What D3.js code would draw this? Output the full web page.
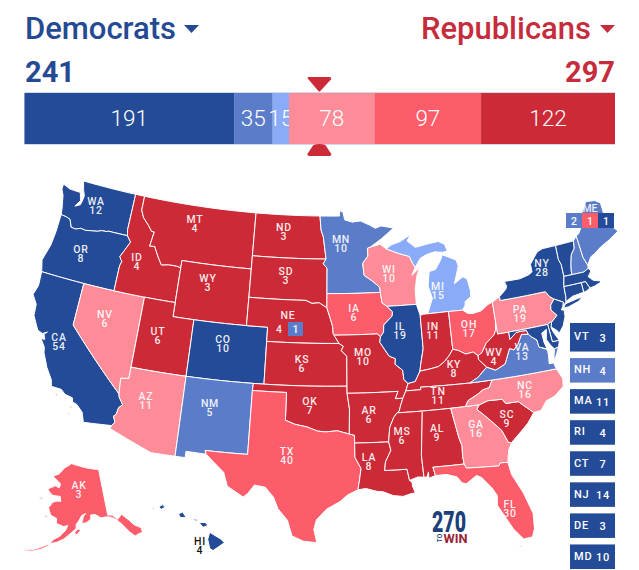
<![CDATA[<!DOCTYPE html>
<html>
<head>
<meta charset="utf-8">
<script src="https://cdn.jsdelivr.net/npm/d3@7"></script>
<style>
  html, body { margin: 0; padding: 0; background: #fff; }
  svg { display: block; font-family: Roboto, sans-serif; }
</style>
</head>
<body>
<svg id="chart" width="639" height="570"></svg>
<script>
// seats in the bar, left to right
const barValues = [191, 35, 15, 78, 97, 122];
const barRatings = ['safeD', 'likelyD', 'leanD', 'leanR', 'likelyR', 'safeR'];
const demTotal = 241;
const repTotal = 297;
const winNumber = 270;

const ratingColors = {
    safeD: '#234b97', likelyD: '#5a7cc9', leanD: '#8aabf7',
    leanR: '#fd8b98', likelyR: '#fd5c6b', safeR: '#cd2a38'
};

const stateIds = ['WA','OR','CA','NV','ID','MT','WY','UT','CO','AZ','NM','ND','SD','NE','KS','OK','TX','MN','IA','MO','AR','LA','WI','IL','MI','IN','OH','KY','TN','MS','AL','GA','FL','SC','NC','VA','WV','PA','NY','VT','NH','ME','MA','RI','CT','NJ','DE','MD','AK','HI'];
const stateVotes = [12,8,54,6,4,4,3,6,10,11,5,3,3,4,6,7,40,10,6,10,6,8,10,19,15,11,17,8,11,6,9,16,30,9,16,13,4,19,28,3,4,4,11,4,7,14,3,10,3,4];
const stateRatings = ['safeD','safeD','safeD','leanR','safeR','safeR','safeR','safeR','safeD','leanR','likelyD','safeR','safeR','safeR','safeR','safeR','likelyR','likelyD','likelyR','safeR','safeR','safeR','leanR','safeD','leanD','safeR','likelyR','safeR','safeR','safeR','safeR','leanR','likelyR','safeR','leanR','likelyD','safeR','leanR','safeD','safeD','likelyD','likelyD','safeD','safeD','safeD','safeD','safeD','safeD','likelyR','safeD'];

// small states listed in the side boxes
const tileStates = ['VT','NH','MA','RI','CT','NJ','DE','MD'];
// Maine and Nebraska district splits
const maineSplit = [[2,'likelyD'],[1,'likelyR'],[1,'safeD']];
const nebraskaSplit = [[4,'safeR'],[1,'likelyD']];

// rough state outlines, "west north" pairs, one string per polygon
const outlines = {
    WA:['124.7 48.38,123.9 48.17,123.1 48.15,122.75 48.15,122.5 47.6,122.9 47.1,122.4 47.3,122.3 47.6,122.25 48,122.5 48.4,122.76 49,117.03 49,117.04 46.42,116.92 46,118.98 46,119 45.95,119.6 45.92,120 45.8,120.6 45.73,121.2 45.65,121.7 45.7,122.2 45.55,122.7 45.6,122.8 45.8,123 46.1,123.4 46.2,124 46.25,124.1 46.7,124.2 47,124.4 47.6,124.7 48'],
    OR:['124 46.25,123.4 46.2,123 46.1,122.8 45.8,122.7 45.6,122.2 45.55,121.7 45.7,121.2 45.65,120.6 45.73,120 45.8,119.6 45.92,119 45.95,118.98 46,116.92 46,116.47 45.6,116.85 45,117.2 44.45,117.05 44.25,116.9 44.15,117.03 43.8,117.03 42,124.2 42,124.5 42.8,124.1 44,124 45'],
    CA:['124.2 42,120 42,120 39,114.63 35,114.57 34.8,114.14 34.3,114.43 34.05,114.53 33.55,114.72 33.4,114.5 33,114.72 32.72,117.12 32.53,117.25 32.85,117.4 33.2,118 33.65,118.4 33.75,118.5 34.03,119.2 34.15,119.6 34.42,120.5 34.45,120.65 34.9,121.3 35.65,121.9 36.6,122 36.97,122.5 37.5,122.15 37.5,122.35 37.85,122.1 38.05,122.5 37.85,123 38,123.7 38.9,123.8 39.7,124.35 40.3,124.1 41','120.2 34.05,119.6 33.98,119.9 33.93','118.6 33.48,118.3 33.35,118.45 33.3','118.6 33.05,118.35 32.82,118.5 32.82'],
    NV:['120 42,114.04 42,114.04 36.2,114.75 36.1,114.63 35,120 39'],
    AZ:['114.04 37,109.05 37,109.05 31.33,111.07 31.33,114.81 32.5,114.72 32.72,114.5 33,114.72 33.4,114.53 33.55,114.43 34.05,114.14 34.3,114.57 34.8,114.63 35,114.75 36.1,114.04 36.2'],
    UT:['114.04 42,111.05 42,111.05 41,109.05 41,109.05 37,114.04 37'],
    ID:['117.03 49,116.05 49,116.05 48,115.7 47.5,115 47,114.6 46.65,114.32 46.65,114.5 45.6,114 45.65,113.45 44.95,113 44.45,112.3 44.55,111.5 44.55,111.05 44.48,111.05 42,117.03 42,117.03 43.8,116.9 44.15,117.05 44.25,117.2 44.45,116.85 45,116.47 45.6,116.92 46,117.04 46.42'],
    MT:['116.05 49,104.05 49,104.05 45,111.05 45,111.05 44.48,111.5 44.55,112.3 44.55,113 44.45,113.45 44.95,114 45.65,114.5 45.6,114.32 46.65,114.6 46.65,115 47,115.7 47.5,116.05 48'],
    WY:['111.05 45,104.05 45,104.05 41,111.05 41'],
    CO:['109.05 41,102.05 41,102.05 37,109.05 37'],
    NM:['109.05 37,103 37,103.04 36.5,103.04 32,106.62 32,106.5 31.75,108.2 31.78,108.2 31.33,109.05 31.33'],
    TX:['106.62 32,103.04 32,103.04 36.5,100 36.5,100 34.56,99.2 34.3,98.1 34.13,97.2 33.85,96.5 33.8,95.5 33.88,94.48 33.64,94.04 33.55,94.04 33,94.04 32,93.55 31.2,93.7 30.4,93.85 29.7,94.7 29.35,95.3 28.9,96.4 28.35,97.2 27.6,97.4 26.9,97.15 25.96,98.2 26.05,99.1 26.4,99.5 27.5,100.3 28.3,100.7 29.1,101.4 29.77,102.3 29.88,102.8 29.25,103.15 28.98,104.5 29.65,104.9 30.6,106.5 31.75'],
    OK:['103 37,94.62 37,94.62 36.5,94.43 35.4,94.48 33.64,95.5 33.88,96.5 33.8,97.2 33.85,98.1 34.13,99.2 34.3,100 34.56,100 36.5,103.04 36.5'],
    KS:['102.05 40,95.3 40,94.9 39.8,95.1 39.5,94.6 39.1,94.62 37,102.05 37'],
    NE:['104.05 43,98.5 43,97.9 42.8,97.2 42.85,96.45 42.5,96.1 41.7,95.9 41.2,95.85 40.7,95.3 40,102.05 40,102.05 41,104.05 41'],
    SD:['104.05 45.94,96.56 45.94,96.85 45.6,96.45 45.3,96.45 43.5,96.45 42.5,97.2 42.85,97.9 42.8,98.5 43,104.05 43'],
    ND:['104.05 49,97.23 49,97.1 48,96.85 47.5,96.56 45.94,104.05 45.94'],
    MN:['97.23 49,95.15 49,95.15 49.38,94.8 49.3,94.6 48.72,93.8 48.55,92.95 48.62,92 48.3,91.4 48.05,90.8 48.2,89.5 48,90.8 47.3,92.05 46.72,92.3 46.66,92.3 46.1,92.85 45.6,92.75 44.75,91.9 44.3,91.25 43.85,91.22 43.5,96.45 43.5,96.45 45.3,96.85 45.6,96.56 45.94,96.85 47.5,97.1 48'],
    IA:['96.45 43.5,91.22 43.5,91.1 42.75,90.65 42.5,90.15 42.1,90.2 41.8,91.05 41.2,91.1 40.7,91.42 40.38,91.7 40.6,95.77 40.58,95.85 40.7,95.9 41.2,96.1 41.7,96.45 42.5'],
    MO:['95.77 40.58,91.7 40.6,91.42 40.38,91.5 40,91.1 39.5,90.7 39,90.15 38.8,90.2 38.4,89.55 37.95,89.5 37.3,89.15 37,89.4 36.5,89.7 36,90.37 36,90.1 36.5,94.62 36.5,94.62 37,94.6 39.1,95.1 39.5,94.9 39.8,95.3 40'],
    AR:['94.62 36.5,90.1 36.5,90.37 36,89.7 36,89.9 35.6,90.1 35.1,90.3 35,90.6 34.7,91 34,91.15 33,94.04 33,94.04 33.55,94.48 33.64,94.43 35.4'],
    LA:['94.04 33,91.15 33,91 32.4,91.5 31.6,91.6 31,89.75 31,89.6 30.2,89.4 30.05,89.4 29.8,89.2 29.3,89.6 29.25,90.2 29.1,91 29.2,91.8 29.5,92.3 29.55,93.2 29.78,93.85 29.7,93.7 30.4,93.55 31.2,94.04 32'],
    MS:['90.3 35,88.2 35,88.1 34.9,88.47 31.9,88.4 30.35,88.9 30.4,89.6 30.2,89.75 31,91.6 31,91.5 31.6,91 32.4,91.15 33,91 34,90.6 34.7'],
    AL:['88.2 35,85.6 35,85.18 32.87,85 32.3,85.05 31.55,85 31,87.6 31,87.45 30.4,88 30.25,88 30.7,88.15 30.35,88.4 30.35,88.47 31.9,88.1 34.9'],
    GA:['85.6 35,83.1 35,83.35 34.7,82.75 34.2,82 33.5,81.5 33,81.1 32.1,80.85 32.03,81.2 31.5,81.4 30.7,82 30.75,82.2 30.55,84.86 30.7,85 31,85.05 31.55,85 32.3,85.18 32.87'],
    FL:['87.6 31,85 31,84.86 30.7,82.2 30.55,82 30.75,81.4 30.7,81.25 29.8,80.55 28.4,80.05 26.85,80.15 25.75,80.4 25.2,81.1 25.15,81.75 25.95,82.2 26.8,82.75 27.8,82.65 28.5,83 29.1,83.7 29.9,84.1 30.1,85 29.6,85.35 29.7,85.7 30.15,86.5 30.4,87.45 30.4','81.8 24.55,81.3 24.65,81.3 24.75'],
    SC:['83.1 35,82.3 35.2,81.05 35.15,80.8 34.82,79.7 34.8,78.55 33.86,79.2 33.2,79.9 32.7,80.85 32.03,81.1 32.1,81.5 33,82 33.5,82.75 34.2,83.35 34.7'],
    NC:['84.32 35,83.1 35,82.3 35.2,81.05 35.15,80.8 34.82,79.7 34.8,78.55 33.86,77.9 33.9,77.3 34.5,76.5 34.7,75.6 35.25,75.5 35.8,75.87 36.55,81.68 36.59,82 36.1,82.6 36,83.1 35.75,84 35.4'],
    TN:['90.3 35,88.2 35,85.6 35,84.32 35,84 35.4,83.1 35.75,82.6 36,82 36.1,81.68 36.59,83.68 36.6,86.5 36.65,88.07 36.68,88.07 36.5,89.4 36.5,89.7 36,89.9 35.6,90.1 35.1'],
    KY:['89.4 36.5,88.07 36.5,88.07 36.68,86.5 36.65,83.68 36.6,82.9 36.9,81.97 37.54,82.6 38.15,82.6 38.42,83 38.72,83.7 38.65,84.3 38.95,84.82 39.1,85.2 38.7,85.7 38.3,86.3 38,87 37.9,88 37.8,88.5 37.1,89.15 37'],
    IL:['90.65 42.5,87.8 42.49,87.55 41.75,87.53 41.7,87.53 39.35,87.9 38.2,88 37.8,88.5 37.1,89.15 37,89.5 37.3,89.55 37.95,90.2 38.4,90.15 38.8,90.7 39,91.1 39.5,91.5 40,91.42 40.38,91.1 40.7,91.05 41.2,90.2 41.8,90.15 42.1'],
    IN:['87.53 41.7,87.2 41.75,86.8 41.76,84.8 41.76,84.82 39.1,85.2 38.7,85.7 38.3,86.3 38,87 37.9,88 37.8,87.9 38.2,87.53 39.35'],
    OH:['84.8 41.76,83.45 41.73,83 41.45,82.5 41.4,81.7 41.5,81 41.85,80.52 41.98,80.52 40.64,80.65 40,80.85 39.7,81.7 39.2,82.2 38.6,82.6 38.42,83 38.72,83.7 38.65,84.3 38.95,84.82 39.1'],
    WV:['80.52 40.64,80.52 39.72,79.48 39.72,79.48 39.2,78.8 39.6,78.4 39.62,77.83 39.6,77.72 39.32,78.35 39.4,78.85 38.75,79.3 38.42,79.65 38.58,80.3 37.55,81.22 37.24,81.97 37.54,82.6 38.15,82.6 38.42,82.2 38.6,81.7 39.2,80.85 39.7,80.65 40'],
    VA:['83.68 36.6,81.68 36.59,75.87 36.55,76 37,76.4 37,76.3 37.6,76.3 38,77 38.3,77.05 38.8,77.5 39.1,77.72 39.32,78.35 39.4,78.85 38.75,79.3 38.42,79.65 38.58,80.3 37.55,81.22 37.24,81.97 37.54,82.9 36.9','75.95 37.15,75.65 37.95,75.25 38.03,75.6 37.5'],
    MD:['79.48 39.72,75.79 39.72,75.7 38.46,75.05 38.45,75.25 38.03,75.65 37.95,75.9 38.2,76.2 38.7,76 39.4,76.5 39.2,76.45 38.5,76.3 38.05,77 38.3,77.05 38.8,77.5 39.1,77.72 39.32,77.83 39.6,78.4 39.62,78.8 39.6,79.48 39.2'],
    DE:['75.79 39.72,75.5 39.83,75.4 39.8,75.55 39.45,75.4 39.05,75.05 38.45,75.7 38.46'],
    PA:['80.52 41.98,79.76 42.27,79.76 42,75.35 42,75.05 41.6,74.7 41.36,75.13 40.98,75.2 40.65,74.75 40.2,75.4 39.8,75.5 39.83,75.79 39.72,79.48 39.72,80.52 39.72,80.52 40.64'],
    NY:['79.76 42.27,79.05 42.7,78.9 42.9,79.05 43.27,77.5 43.25,76.6 43.4,76.2 43.55,76.2 44.1,75.3 44.85,74.7 45,73.35 45,73.4 44,73.25 43.6,73.27 42.75,73.5 42.05,73.55 41.3,73.65 41,73.9 40.75,73.9 41,74.7 41.36,75.05 41.6,75.35 42,79.76 42','74 40.58,73.75 40.85,72.6 41,72 41.05,72.5 40.8,73.5 40.6'],
    NJ:['73.9 41,74.7 41.36,75.13 40.98,75.2 40.65,74.75 40.2,75.4 39.8,75.55 39.5,75.1 39.2,74.9 38.95,74.4 39.4,74.05 40,74 40.45,74.25 40.5,74.05 40.7'],
    CT:['73.5 42.05,71.8 42.02,71.8 41.33,72.9 41.25,73.65 41,73.55 41.3'],
    RI:['71.8 42.02,71.38 42.02,71.2 41.65,71.12 41.5,71.5 41.37,71.8 41.33'],
    MA:['73.5 42.05,73.27 42.75,71.3 42.7,70.8 42.87,70.6 42.65,71 42.3,70.6 41.95,70 41.8,70.2 42.05,69.95 41.7,70.65 41.55,71.12 41.5,71.2 41.65,71.38 42.02,71.8 42.02'],
    VT:['73.35 45,71.5 45.01,71.6 44.5,72.05 44.1,72.3 43.5,72.45 43,72.46 42.73,73.27 42.75,73.25 43.6,73.4 44'],
    NH:['71.5 45.01,71.1 45.3,71 43.7,70.75 43.1,70.8 42.87,71.3 42.7,72.46 42.73,72.45 43,72.3 43.5,72.05 44.1,71.6 44.5'],
    ME:['71.1 45.3,70.8 45.4,70.3 45.9,70 46.7,69.22 47.46,68.3 47.35,67.8 47.07,67.8 45.7,67.45 45.3,66.95 44.8,68 44.4,69 44.1,69.8 43.75,70.25 43.6,70.75 43.1,71 43.7'],
    WI:['92.3 46.66,92.05 46.72,91 46.9,90.4 46.55,89.1 46.15,88.1 45.9,87.8 45.35,87.6 45.1,88 44.55,87.4 44.9,87.05 45.25,87.5 44.5,87.8 43.5,87.8 42.49,90.65 42.5,91.1 42.75,91.22 43.5,91.25 43.85,91.9 44.3,92.75 44.75,92.85 45.6,92.3 46.1'],
    MI:['86.8 41.76,84.8 41.76,83.45 41.73,83.15 42.05,83.1 42.3,82.5 42.6,82.45 43,82.6 43.85,83 44.05,83.9 43.65,83.3 44.85,83.45 45.3,84.75 45.78,85 45.4,85.6 44.8,86.25 44.7,86.5 43.7,86.2 42.8','90.4 46.55,89.1 46.15,88.1 45.9,87.8 45.35,87.6 45.1,87 45.7,86.4 45.9,85.5 46.05,84.7 45.95,84.2 46,84.4 46.5,85 46.75,86 46.67,87.4 46.5,88.2 47,87.8 47.45,88.9 47,89.8 46.82'],
    AK:['141 69.65,141 60.3,139.2 60.1,137.5 59,135.5 59.8,133.5 58.4,132 57,130 56,130.1 55,131.5 55,133 54.8,134.5 56,135.5 57,136.5 58,138 59,139.7 59.7,141.5 60,144 60,146 60.8,148 60.8,148 60,150 59.3,151.8 59.2,151 60.6,150 61.2,151.7 60.8,153 59.7,154 59,154 58.2,156.5 57,158.5 56,161 55.2,163.3 54.8,162 55.8,160 56.5,158 57.8,157.3 58.8,158.8 58.5,161.8 59,162 60,164.5 60.5,165.4 61.3,166 62,164.9 62.7,164.8 63.1,162.5 63.5,161 63.5,161.5 64.5,163 64.5,165 64.5,166.5 64.9,168 65.6,164.5 66.5,162.5 66.2,162 67,164 67.6,166.6 68.35,163.5 69,161 70.3,156.8 71.35,152.5 70.9,148 70.4,144 70','154.5 57.4,153.5 58.1,152.2 57.9,152.8 57.5,154.2 56.8','171.5 63.4,170 63.7,169 63.3','167.2 60.1,166 60.35,165.7 59.9','163.5 54.7,165 54.2,167 53.5,169 52.9,172 52.5,172 52.3,169 52.6,166 53.4,163.5 54.4'],
    HI:['155.9 20.25,155.05 19.75,154.8 19.5,155.65 18.95,155.9 19.1,156.05 19.75','156.7 20.95,156.25 20.95,156 20.75,156.4 20.6','157.3 21.2,156.75 21.17,156.9 21.05','158.25 21.55,157.95 21.7,157.65 21.3,158.1 21.3','159.75 22.05,159.4 22.23,159.3 22,159.55 21.88','160.25 21.95,160.1 22,160.1 21.85']
};

const svg = d3.select('#chart');
const mapScale = 810;

const mainProjection = d3.geoAlbers().scale(mapScale).translate([325, 362]);
const alaskaProjection = d3.geoConicEqualArea().rotate([154, 0]).center([-2, 58.5]).parallels([55, 65]).scale(mapScale * 0.35).translate([71, 527]);
const hawaiiProjection = d3.geoConicEqualArea().rotate([157, 0]).center([-3, 19.9]).parallels([8, 18]).scale(mapScale).translate([155, 537]);

// label spots on the page, middle of the two lines
const labelSpots = {
    WA:[96,206],OR:[81,254],CA:[59,342],NV:[105,319],ID:[137,262],MT:[195,224],WY:[208,283],UT:[158,336],CO:[223,344],AZ:[146,401],NM:[210,408],ND:[284,232],SD:[286,276],KS:[302,364],OK:[310,406],TX:[287,456],MN:[341,244],IA:[354,313],MO:[363,357],AR:[369,415],LA:[369,462],WI:[389,274],IL:[400,331],MI:[438,291],IN:[433,331],OH:[469,329],KY:[454,369],TN:[438,396],MS:[402,436],AL:[437,433],GA:[476,429],FL:[510,509],SC:[507,419],NC:[525,390],VA:[522,352],WV:[494,357],PA:[520,314],NY:[542,268],AK:[79,490],HI:[200,546]
};

function projectionFor(id) {
    if (id === 'AK') return alaskaProjection;
    if (id === 'HI') return hawaiiProjection;
    return mainProjection;
}

// the long borders follow parallels, so walk them in small steps
function parseRing(text) {
    const pts = text.split(',').map(p => p.trim().split(' ').map(Number)).map(p => [-p[0], p[1]]);
    const out = [];
    pts.forEach((p, i) => {
        const q = pts[(i + 1) % pts.length];
        const steps = Math.max(1, Math.ceil(Math.abs(q[0] - p[0])));
        for (let s = 0; s < steps; s++) {
            out.push([p[0] + (q[0] - p[0]) * s / steps, p[1] + (q[1] - p[1]) * s / steps]);
        }
    });
    return out;
}

const lineGen = d3.line();

function statePath(id) {
    const proj = projectionFor(id);
    return outlines[id].map(r => lineGen(parseRing(r).map(proj)) + 'Z').join('');
}

// ---------- header ----------
const demBlue = '#254a94';
const repRed = '#c62c3c';

svg.append('text').attr('x', 25).attr('y', 39).attr('font-size', 31).attr('font-weight', 500).attr('fill', demBlue).text('Democrats');
svg.append('text').attr('x', 591).attr('y', 39).attr('text-anchor', 'end').attr('font-size', 31).attr('font-weight', 500).attr('fill', repRed).text('Republicans');
svg.append('path').attr('d', 'M184,25H199L191.5,33Z').attr('fill', demBlue);
svg.append('path').attr('d', 'M600,25H615L607.5,33Z').attr('fill', repRed);
svg.append('text').attr('x', 25).attr('y', 82).attr('font-size', 29).attr('font-weight', 700).attr('fill', demBlue).text(demTotal);
svg.append('text').attr('x', 615).attr('y', 82).attr('text-anchor', 'end').attr('font-size', 29).attr('font-weight', 700).attr('fill', repRed).text(repTotal);

// ---------- seat bar ----------
const x = d3.scaleLinear().domain([0, d3.sum(barValues)]).range([24.5, 615]);
const barTop = 93, barHeight = 51;
const starts = d3.cumsum([0].concat(barValues));

svg.append('rect').attr('x', 24.5).attr('y', barTop - 0.7).attr('width', 590.5).attr('height', barHeight + 1.4).attr('fill', '#bcc9e6');

const barGroups = svg.selectAll('g.seg').data(barValues).join('g').attr('class', 'seg');
barGroups.append('rect')
    .attr('x', (d, i) => x(starts[i]))
    .attr('y', barTop)
    .attr('width', d => x(d) - x(0))
    .attr('height', barHeight)
    .attr('fill', (d, i) => ratingColors[barRatings[i]]);
barGroups.append('text')
    .attr('x', (d, i) => x(starts[i]) + (x(d) - x(0)) / 2)
    .attr('y', barTop + 33)
    .attr('text-anchor', 'middle')
    .attr('font-size', 22.5)
    .attr('font-weight', 300)
    .attr('fill', '#fff')
    .text(d => d);

const winX = x(winNumber) - 1.5;
svg.append('path').attr('d', `M${winX - 12},78Q${winX - 12},77 ${winX - 10},77H${winX + 10}Q${winX + 12},77 ${winX + 12},79L${winX + 1},91Q${winX},92 ${winX - 1},91Z`).attr('fill', ratingColors.safeR);
svg.append('path').attr('d', `M${winX - 6},145Q${winX},143 ${winX + 6},145L${winX + 12},154Q${winX + 12},156 ${winX + 9},156H${winX - 9}Q${winX - 12},156 ${winX - 12},154Z`).attr('fill', ratingColors.safeR);

// ---------- map ----------
svg.append('g').selectAll('path').data(stateIds).join('path')
    .attr('d', d => statePath(d))
    .attr('fill', (d, i) => ratingColors[stateRatings[i]])
    .attr('stroke', '#fff')
    .attr('stroke-width', 1)
    .attr('stroke-linejoin', 'round');

const labelFont = 10.5;
const labelWhite = 'rgba(255,255,255,0.92)';
const labels = svg.append('g').attr('font-size', labelFont).attr('font-weight', 500).attr('letter-spacing', 0.8).attr('text-anchor', 'middle');

stateIds.forEach((id, i) => {
    const spot = labelSpots[id];
    if (!spot) return;
    const color = id === 'HI' ? '#111' : labelWhite;
    labels.append('text').attr('x', spot[0]).attr('y', spot[1] - 0.8).attr('fill', color).text(id);
    labels.append('text').attr('x', spot[0]).attr('y', spot[1] + 8.2).attr('fill', color).text(stateVotes[i]);
});

// Nebraska split
svg.append('text').attr('x', 288).attr('y', 319).attr('text-anchor', 'middle').attr('font-size', labelFont).attr('font-weight', 500).attr('letter-spacing', 0.8).attr('fill', labelWhite).text('NE');
svg.append('text').attr('x', 279).attr('y', 333).attr('text-anchor', 'middle').attr('font-size', labelFont).attr('font-weight', 500).attr('fill', labelWhite).text(nebraskaSplit[0][0]);
svg.append('rect').attr('x', 288).attr('y', 322).attr('width', 15).attr('height', 14).attr('fill', ratingColors[nebraskaSplit[1][1]]);
svg.append('text').attr('x', 295.5).attr('y', 333).attr('text-anchor', 'middle').attr('font-size', labelFont).attr('font-weight', 500).attr('fill', '#fff').text(nebraskaSplit[1][0]);

// Maine split
svg.append('text').attr('x', 590).attr('y', 211.5).attr('text-anchor', 'middle').attr('font-size', labelFont).attr('font-weight', 500).attr('fill', labelWhite).text('ME');
const maineX = d3.scaleBand().domain(d3.range(maineSplit.length)).range([566, 614]);
maineSplit.forEach((m, i) => {
    svg.append('rect').attr('x', maineX(i)).attr('y', 213).attr('width', maineX.bandwidth()).attr('height', 15).attr('fill', ratingColors[m[1]]);
    svg.append('text').attr('x', maineX(i) + maineX.bandwidth() / 2).attr('y', 224.5).attr('text-anchor', 'middle').attr('font-size', labelFont).attr('font-weight', 500).attr('fill', '#fff').text(m[0]);
});

// ---------- side boxes ----------
const tileY = d3.scaleBand().domain(tileStates).range([327, 569]).paddingInner(0.21).paddingOuter(0);
tileStates.forEach((id, n) => {
    const i = stateIds.indexOf(id);
    // the first box is a little taller than the rest
    const top = n === 0 ? tileY(id) - 4 : tileY(id);
    const bottom = tileY(id) + tileY.bandwidth();
    const mid = (top + bottom) / 2;
    svg.append('rect').attr('x', 570).attr('y', top).attr('width', 45).attr('height', bottom - top).attr('fill', ratingColors[stateRatings[i]]);
    svg.append('text').attr('x', 574).attr('y', mid + 3).attr('font-size', 11).attr('font-weight', 500).attr('letter-spacing', 0.8).attr('fill', '#fff').text(id);
    svg.append('text').attr('x', 603).attr('y', mid + 4.5).attr('text-anchor', 'middle').attr('font-size', 11).attr('font-weight', 500).attr('letter-spacing', 0.8).attr('fill', '#fff').text(stateVotes[i]);
});

// ---------- logo ----------
svg.append('text').attr('x', 449).attr('y', 532).attr('text-anchor', 'middle').attr('font-size', 30).attr('font-weight', 900).attr('textLength', 34).attr('lengthAdjust', 'spacingAndGlyphs').attr('fill', '#1c4079').text(winNumber);
svg.append('text').attr('x', 455.5).attr('y', 542.5).attr('text-anchor', 'middle').attr('font-size', 13).attr('font-weight', 700).attr('textLength', 24).attr('lengthAdjust', 'spacingAndGlyphs').attr('fill', '#9c2238').text('WIN');
svg.append('text').attr('transform', 'translate(441.5,538) rotate(-90)').attr('text-anchor', 'middle').attr('font-size', 6.5).attr('font-weight', 500).attr('fill', '#1c4079').text('TO');
</script>
</body>
</html>
]]>
